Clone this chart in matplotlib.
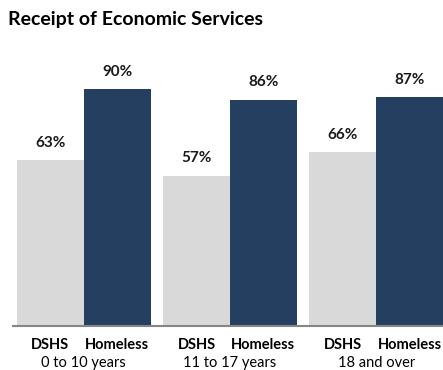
import numpy as np
import matplotlib.pyplot as plt
from matplotlib.transforms import blended_transform_factory

plt.rcParams['font.family'] = ['Lato', 'DejaVu Sans']

# Data
groups = ['0 to 10 years', '11 to 17 years', '18 and over']
series = ['DSHS', 'Homeless']
dshs = [63, 57, 66]
homeless = [90, 86, 87]

colors = {'DSHS': '#D9D9D9', 'Homeless': '#243F60'}
spacing = 2.19

fig = plt.figure(figsize=(4.43, 3.70), dpi=100)
ax = fig.add_axes([0.0293, 0.119, 0.9707, 0.711])

base = np.arange(len(groups)) * spacing
for j, (name, vals) in enumerate(zip(series, [dshs, homeless])):
    xs = base + j
    ax.bar(xs, vals, width=1.0, color=colors[name], align='center')
    for x, v in zip(xs, vals):
        ax.text(x, v + 4, f'{v}%', ha='center', va='bottom',
                fontsize=11, fontweight='bold', color='#1a1a1a')

ax.set_xlim(base[0] - 0.56, base[-1] + 1.5)
ax.set_ylim(0, 100)

ax.set_yticks([])
ticks = np.concatenate([base, base + 1])
ax.set_xticks(np.sort(ticks))
ax.set_xticklabels(['DSHS', 'Homeless'] * len(groups), fontweight='bold', fontsize=10.5)
ax.tick_params(axis='x', length=0, pad=9)

trans = blended_transform_factory(ax.transData, ax.transAxes)
for b, g in zip(base, groups):
    ax.text(b + 0.5, -0.141, g, transform=trans, ha='center', va='center', fontsize=10.5)

for s in ['top', 'right', 'left']:
    ax.spines[s].set_visible(False)
ax.spines['bottom'].set_color('#868686')
ax.spines['bottom'].set_linewidth(1.5)

fig.text(0.018, 0.947, 'Receipt of Economic Services', fontsize=14,
         fontweight='bold', ha='left', va='center')

fig.savefig('out.png', dpi=100)
